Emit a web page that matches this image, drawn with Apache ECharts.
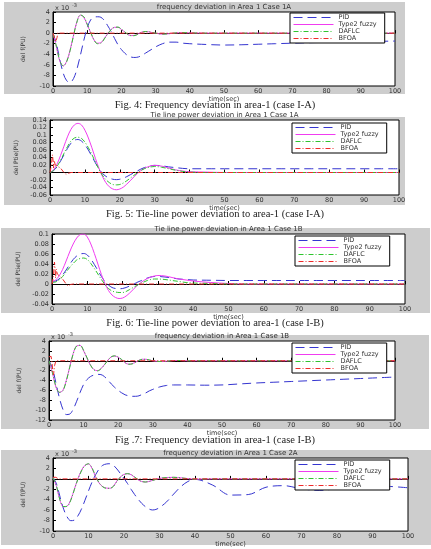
<!DOCTYPE html>
<html>
<head>
<meta charset="utf-8">
<script src="https://cdn.jsdelivr.net/npm/echarts/dist/echarts.min.js"></script>
<style>
  html, body { margin: 0; padding: 0; background: #fff; }
  #main { width: 431px; height: 549px; }
</style>
</head>
<body>
<div id="main"></div>
<script>
// common time grid (sec) for the PID / Type2 fuzzy / DAFLC curves
var timeSec = [0,1,2,3,4,5,6,7,8,9,10,11,12,13,14,15,16,17,18,19,20,21,22,23,24,25,26,27,28,29,30,
  32,34,36,38,40,45,50,55,60,65,70,75,80,85,90,95,100];

// Fig 4 - frequency deviation, case 1A (x10^-3)
var freq1aPid = [0,-2.0,-5.0,-7.6,-9.0,-9.3,-8.6,-6.8,-4.2,-1.4,1.0,
  2.5,3.0,3.1,3.0,2.4,1.4,0.3,-1.0,-2.2,-3.1,
  -3.8,-4.3,-4.55,-4.6,-4.5,-4.2,-3.8,-3.4,-3.0,-2.6,
  -2.0,-1.7,-1.7,-1.9,-2.0,
  -2.15,-2.25,-2.2,-2.1,-2.0,-1.9,-1.8,-1.75,-1.7,-1.6,-1.55,-1.5];
var freq1aType2 = [0,-2.6,-5.3,-6.2,-5.3,-3.2,-0.4,2.2,3.4,3.0,1.6,
  0.1,-1.3,-1.9,-1.8,-1.0,-0.1,0.7,1.1,1.1,0.7,
  0.2,-0.3,-0.45,-0.4,-0.1,0.2,0.3,0.25,0.1,0,
  -0.2,-0.1,0.05,0.1,0.05,
  0,0,0,0,0,0,0,0,0,0,0,0];
var freq1aDaflc = [0,-2.5,-5.2,-6.2,-5.4,-3.3,-0.5,2.1,3.45,3.1,1.7,
  0.2,-1.3,-2.0,-1.9,-1.1,-0.15,0.65,1.1,1.15,0.75,
  0.25,-0.3,-0.5,-0.45,-0.15,0.15,0.3,0.28,0.12,0,
  -0.2,-0.1,0.05,0.1,0.05,
  0,0,0,0,0,0,0,0,0,0,0,0];
var freq1aBfoaT = [0,0.5,0.8,1.0,1.2,1.4,2,100];
var freq1aBfoa = [0,-0.3,-1.6,-1.8,-0.8,0.1,0,0];

// Fig 5 - tie line power deviation, case 1A
var tie1aPid = [0,0.005,0.015,0.03,0.047,0.064,0.078,0.086,0.088,0.084,0.074,
  0.06,0.043,0.026,0.01,-0.002,-0.01,-0.015,-0.018,-0.019,-0.018,
  -0.015,-0.011,-0.006,-0.001,0.004,0.009,0.013,0.016,0.018,0.019,
  0.018,0.015,0.013,0.011,0.01,
  0.01,0.01,0.01,0.01,0.01,0.01,0.01,0.01,0.01,0.01,0.01,0.01];
var tie1aType2 = [0,0.007,0.022,0.045,0.07,0.095,0.115,0.127,0.131,0.127,0.113,
  0.092,0.066,0.038,0.012,-0.01,-0.027,-0.038,-0.044,-0.046,-0.044,
  -0.039,-0.031,-0.022,-0.012,-0.003,0.005,0.011,0.015,0.018,0.019,
  0.017,0.012,0.007,0.004,0.002,
  0.001,0,0,0,0,0,0,0,0,0,0,0];
var tie1aDaflc = [0,0.005,0.016,0.032,0.051,0.069,0.084,0.092,0.094,0.091,0.081,
  0.066,0.048,0.028,0.009,-0.007,-0.019,-0.027,-0.032,-0.033,-0.032,
  -0.028,-0.022,-0.015,-0.008,-0.001,0.005,0.01,0.013,0.015,0.016,
  0.014,0.01,0.006,0.003,0.001,
  0,0,0,0,0,0,0,0,0,0,0,0];
var tie1aBfoaT = [0,0.4,0.7,0.9,1.0,1.2,1.5,2,3,4,4.6,5.2,6,100];
var tie1aBfoa = [0,0.02,0.047,0.03,0.012,0.032,0.02,0.022,0.012,0,-0.005,-0.002,0,0];

// Fig 6 - tie line power deviation, case 1B
var tie1bPid = [0.005,0.006,0.01,0.018,0.028,0.039,0.049,0.056,0.06,0.061,0.058,
  0.05,0.039,0.027,0.015,0.005,-0.002,-0.007,-0.009,-0.0095,-0.009,
  -0.007,-0.004,-0.001,0.003,0.006,0.009,0.012,0.014,0.015,0.015,
  0.014,0.012,0.01,0.009,0.008,
  0.0075,0.007,0.007,0.007,0.007,0.007,0.007,0.007,0.007,0.007,0.007,0.007];
var tie1bType2 = [0.005,0.008,0.016,0.029,0.046,0.064,0.08,0.092,0.099,0.1,0.094,
  0.08,0.061,0.04,0.019,0.001,-0.013,-0.022,-0.027,-0.029,-0.028,
  -0.024,-0.018,-0.011,-0.004,0.002,0.007,0.011,0.014,0.016,0.017,
  0.016,0.013,0.01,0.008,0.006,
  0.003,0.001,0,0,0,0,0,0,0,0,0,0];
var tie1bDaflc = [0.003,0.004,0.008,0.015,0.024,0.033,0.041,0.048,0.051,0.052,0.049,
  0.041,0.031,0.02,0.009,-0.001,-0.009,-0.014,-0.016,-0.017,-0.017,
  -0.015,-0.011,-0.007,-0.003,0.001,0.004,0.007,0.009,0.01,0.01,
  0.009,0.007,0.005,0.003,0.002,
  0.001,0,0,0,0,0,0,0,0,0,0,0];
var tie1bBfoaT = [0,0.4,0.7,0.9,1.0,1.2,1.5,2,3,4,4.6,5.2,6,100];
var tie1bBfoa = [0,0.015,0.044,0.028,0.012,0.03,0.02,0.02,0.01,0,-0.004,-0.001,0,0];

// Fig 7 - frequency deviation, case 1B (x10^-3)
var freq1bPid = [0,-1.5,-4.5,-7.5,-9.8,-10.9,-10.8,-9.8,-8.2,-6.4,-4.8,
  -3.8,-3.2,-2.9,-2.75,-2.8,-3.2,-3.9,-4.7,-5.4,-6.0,
  -6.5,-6.9,-7.1,-7.2,-7.2,-7.1,-6.8,-6.5,-6.1,-5.8,
  -5.3,-5.0,-4.9,-4.9,-4.9,
  -4.95,-4.9,-4.7,-4.5,-4.35,-4.2,-4.05,-3.9,-3.75,-3.6,-3.45,-3.3];
var freq1bType2 = [0,-2.5,-5.3,-6.4,-6.0,-4.0,-1.2,1.5,3.0,3.1,2.0,
  0.5,-0.9,-1.8,-2.0,-1.6,-0.8,0.1,0.8,0.95,0.7,
  0.2,-0.4,-0.7,-0.6,-0.3,0.1,0.3,0.3,0.15,0,
  -0.15,-0.1,0.05,0.05,0,
  0,0,0,0,0,0,0,0,0,0,0,0];
var freq1bDaflc = [0,-2.4,-5.2,-6.4,-6.1,-4.1,-1.3,1.4,3.0,3.15,2.1,
  0.6,-0.9,-1.85,-2.05,-1.65,-0.85,0.05,0.8,1.0,0.75,
  0.25,-0.4,-0.7,-0.65,-0.35,0.05,0.3,0.3,0.15,0,
  -0.15,-0.1,0.05,0.05,0,
  0,0,0,0,0,0,0,0,0,0,0,0];
var freq1bBfoaT = [0,0.6,0.9,1.1,1.3,1.6,2,100];
var freq1bBfoa = [0.8,0.9,-0.5,-2.4,-2.9,-1,0,0];

// last plot - frequency deviation, case 2A (x10^-3)
var freq2aPid = [0.3,-1.0,-3.5,-5.8,-7.3,-8.0,-7.9,-7.1,-5.8,-4.1,-2.3,
  -0.6,0.8,1.9,2.6,2.85,2.9,2.6,1.9,1.0,0.1,
  -0.9,-2.0,-3.0,-3.9,-4.7,-5.3,-5.75,-5.95,-5.85,-5.5,
  -4.4,-2.9,-1.5,-0.5,-0.1,
  -1.2,-3.1,-3.0,-1.6,-1.3,-1.9,-2.2,-1.85,-1.4,-1.3,-1.45,-1.7];
var freq2aType2 = [0.3,-1.5,-4.2,-5.35,-5.2,-4.0,-2.0,0,1.6,2.6,2.86,
  2.0,0.4,-0.8,-1.5,-1.75,-1.8,-1.4,-0.4,0.4,0.85,
  1.0,0.8,0.3,-0.2,-0.5,-0.6,-0.5,-0.3,-0.1,0.1,
  0.25,0.3,0.2,0.05,-0.05,
  0,0,0,0,0,0,0,0,0,0,0,0];
var freq2aDaflc = [0.3,-1.4,-4.1,-5.3,-5.25,-4.1,-2.1,-0.1,1.5,2.55,2.9,
  2.1,0.5,-0.75,-1.5,-1.8,-1.8,-1.45,-0.5,0.35,0.85,
  1.0,0.85,0.35,-0.15,-0.5,-0.6,-0.5,-0.3,-0.1,0.1,
  0.25,0.3,0.2,0.05,-0.05,
  0,0,0,0,0,0,0,0,0,0,0,0];
var freq2aBfoaT = [0,0.8,1.5,100];
var freq2aBfoa = [0.3,0.3,0,0];

var seriesNames = ['PID', 'Type2 fuzzy', 'DAFLC', 'BFOA'];

var styles = {
  'PID': { color: '#3535d0', type: [9, 5] },
  'Type2 fuzzy': { color: '#f03cf0', type: 'solid' },
  'DAFLC': { color: '#2fc42f', type: [5, 2, 1, 2] },
  'BFOA': { color: '#ee2a2a', type: [5, 2, 1, 2] }
};

var panels = [
  { title: 'frequency deviation in Area 1 Case 1A', ylabel: 'del f(PU)', exp: true,
    yMin: -10, yMax: 4, yStep: 2, left: 53, top: 12, width: 342, height: 74,
    bg: [4, 2, 401, 92], legendPos: [290, 13],
    caption: 'Fig. 4: Frequency deviation in area-1 (case I-A)', capY: 105,
    lines: [freq1aPid, freq1aType2, freq1aDaflc], bfoaT: freq1aBfoaT, bfoa: freq1aBfoa },
  { title: 'Tie line power deviation in Area 1 Case 1A', ylabel: 'del Ptie(PU)', exp: false,
    yMin: -0.06, yMax: 0.14, yStep: 0.02, left: 50, top: 120, width: 349, height: 75,
    bg: [4, 117, 401, 88], legendPos: [292, 123],
    caption: 'Fig. 5: Tie-line power deviation to area-1 (case I-A)', capY: 214,
    lines: [tie1aPid, tie1aType2, tie1aDaflc], bfoaT: tie1aBfoaT, bfoa: tie1aBfoa },
  { title: 'Tie line power deviation in Area 1 Case 1B', ylabel: 'del Ptie(PU)', exp: false,
    yMin: -0.04, yMax: 0.1, yStep: 0.02, left: 52, top: 234, width: 353, height: 70,
    bg: [1, 228, 429, 85], legendPos: [295, 236],
    caption: 'Fig. 6: Tie-line power deviation to area-1 (case I-B)', capY: 323,
    lines: [tie1bPid, tie1bType2, tie1bDaflc], bfoaT: tie1bBfoaT, bfoa: tie1bBfoa },
  { title: 'frequency deviation in Area 1 Case 1B', ylabel: 'del f(PU)', exp: true,
    yMin: -12, yMax: 4, yStep: 2, left: 49, top: 341, width: 346, height: 79,
    bg: [1, 335, 428, 94], legendPos: [292, 343],
    caption: 'Fig .7: Frequency deviation in area-1 (case I-B)', capY: 440,
    lines: [freq1bPid, freq1bType2, freq1bDaflc], bfoaT: freq1bBfoaT, bfoa: freq1bBfoa },
  { title: 'frequency deviation in Area 1 Case 2A', ylabel: 'del f(PU)', exp: true,
    yMin: -10, yMax: 4, yStep: 2, left: 53, top: 458, width: 355, height: 78,
    bg: [1, 450, 430, 95], legendPos: [295, 460],
    caption: '', capY: 0,
    lines: [freq2aPid, freq2aType2, freq2aDaflc], bfoaT: freq2aBfoaT, bfoa: freq2aBfoa }
];

var sans = 'DejaVu Sans';

function mkLine(name, gi, t, v, smooth) {
  var st = styles[name];
  return {
    name: name, type: 'line', xAxisIndex: gi, yAxisIndex: gi,
    symbol: 'none', showSymbol: false, smooth: smooth, animation: false,
    lineStyle: { color: st.color, width: 1, type: st.type },
    itemStyle: { color: st.color },
    emphasis: { disabled: true },
    data: t.map(function (x, i) { return [x, v[i]]; })
  };
}

var legendData = seriesNames.map(function (n) {
  return { name: n, itemStyle: { opacity: 0 },
    lineStyle: { color: styles[n].color, type: styles[n].type, width: 1, opacity: 1 } };
});

var grids = [], xAxes = [], yAxes = [], series = [], legends = [], graphics = [];

panels.forEach(function (p, i) {
  grids.push({ left: p.left, top: p.top, width: p.width, height: p.height,
    show: true, backgroundColor: '#fff', borderColor: '#000', borderWidth: 1 });

  xAxes.push({
    gridIndex: i, type: 'value', min: 0, max: 100, interval: 10,
    name: 'time(sec)', nameLocation: 'middle', nameGap: 8,
    nameTextStyle: { fontSize: 6.5, fontFamily: sans, color: '#333' },
    axisLine: { lineStyle: { color: '#000', width: 1 } },
    axisTick: { inside: true, length: 3, lineStyle: { color: '#000' } },
    axisLabel: { fontSize: 6.5, fontFamily: sans, color: '#333', margin: 2 },
    splitLine: { show: false }
  });
  yAxes.push({
    gridIndex: i, type: 'value', min: p.yMin, max: p.yMax, interval: p.yStep,
    name: p.ylabel, nameLocation: 'middle', nameGap: 27,
    nameTextStyle: { fontSize: 6, fontFamily: sans, color: '#333' },
    axisLine: { lineStyle: { color: '#000', width: 1 } },
    axisTick: { inside: true, length: 3, lineStyle: { color: '#000' } },
    axisLabel: { fontSize: 6.5, fontFamily: sans, color: '#333', margin: 3 },
    splitLine: { show: false }
  });

  series.push(mkLine('PID', i, timeSec, p.lines[0], 0.35));
  series.push(mkLine('Type2 fuzzy', i, timeSec, p.lines[1], 0.35));
  series.push(mkLine('DAFLC', i, timeSec, p.lines[2], 0.35));
  series.push(mkLine('BFOA', i, p.bfoaT, p.bfoa, false));

  legends.push({
    data: legendData, left: p.legendPos[0], top: p.legendPos[1],
    orient: 'vertical', itemGap: 0, itemWidth: 40, itemHeight: 6,
    itemStyle: { opacity: 0 },
    padding: [1, 8, 1, 3], backgroundColor: '#fff', borderColor: '#000', borderWidth: 1,
    selectedMode: false,
    textStyle: { fontSize: 6.5, fontFamily: sans, color: '#333', lineHeight: 6.5, padding: [0, 0, 0, 0] }
  });

  // grey figure background
  graphics.push({ type: 'rect', z: -10, silent: true,
    shape: { x: p.bg[0], y: p.bg[1], width: p.bg[2], height: p.bg[3] },
    style: { fill: '#cdcdcd' } });
  // plot title
  graphics.push({ type: 'text', z: 50, silent: true, x: p.left + p.width / 2, y: p.top - 1,
    style: { text: p.title, fill: '#333', font: '7px "DejaVu Sans"',
      textAlign: 'center', textVerticalAlign: 'bottom' } });
  if (p.exp) {
    graphics.push({ type: 'text', z: 50, silent: true, x: p.left + 2, y: p.top - 0.5,
      style: { text: 'x 10', fill: '#333', font: '6.5px "DejaVu Sans"', textVerticalAlign: 'bottom' } });
    graphics.push({ type: 'text', z: 50, silent: true, x: p.left + 19, y: p.top - 4,
      style: { text: '-3', fill: '#333', font: '5px "DejaVu Sans"', textVerticalAlign: 'bottom' } });
  }
  if (p.caption) {
    graphics.push({ type: 'text', z: 50, silent: true, x: 215, y: p.capY,
      style: { text: p.caption, fill: '#222', font: '10.5px "Liberation Serif"',
        textAlign: 'center', textVerticalAlign: 'middle' } });
  }
});

var chart = echarts.init(document.getElementById('main'));
chart.setOption({
  backgroundColor: '#fff',
  animation: false,
  grid: grids,
  xAxis: xAxes,
  yAxis: yAxes,
  legend: legends,
  series: series,
  graphic: graphics
});
</script>
</body>
</html>
